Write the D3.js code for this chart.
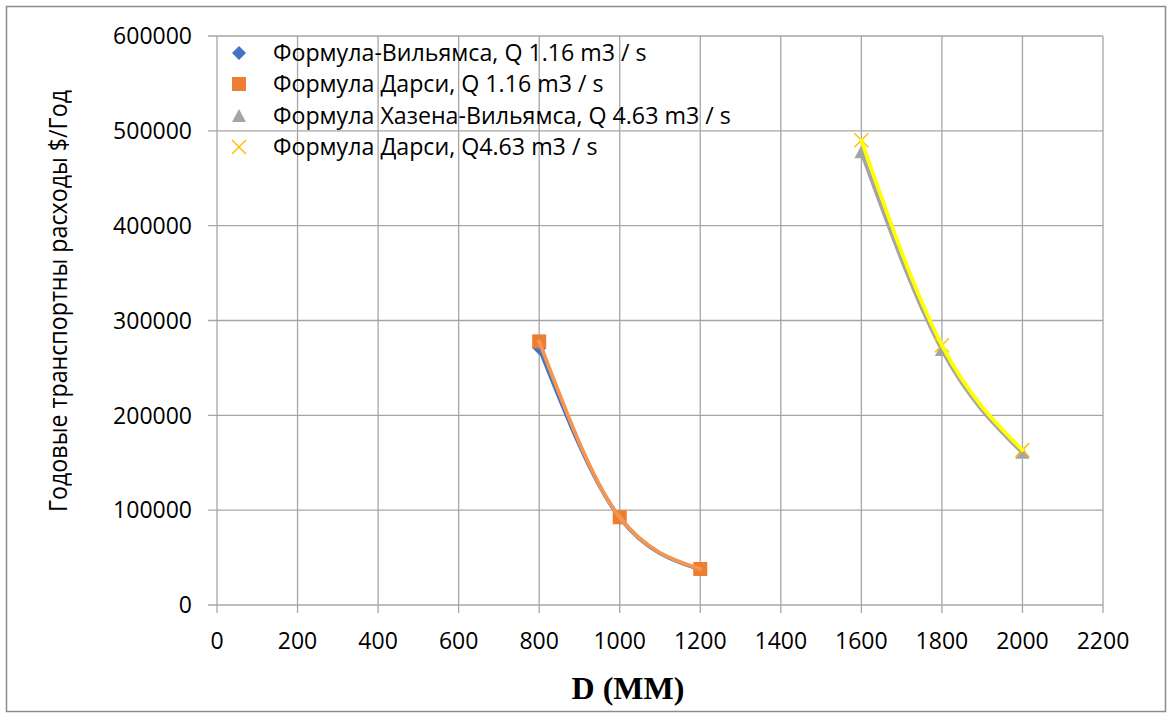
<!DOCTYPE html>
<html><head><meta charset="utf-8">
<script src="https://cdn.jsdelivr.net/npm/d3@7"></script>
<style>body{margin:0;background:#fff}svg{display:block}</style>
</head><body>
<svg id="c" width="1168" height="718"></svg>
<script>
const xTicks = [0,200,400,600,800,1000,1200,1400,1600,1800,2000,2200];
const yTicks = [0,100000,200000,300000,400000,500000,600000];
const seriesNames = ["Формула-Вильямса, Q 1.16 m3 / s","Формула Дарси, Q 1.16 m3 / s","Формула Хазена-Вильямса, Q 4.63 m3 / s","Формула Дарси, Q4.63 m3 / s"];
const d1x = [800,1000,1200], d1y = [271000,92000,37500];
const d2x = [800,1000,1200], d2y = [278000,92500,38000];
const d3x = [1600,1800,2000], d3y = [477500,269000,160500];
const d4x = [1600,1800,2000], d4y = [490000,274000,163500];
const xTitle = "D (MM)";
const yTitle = "Годовые  транспортны  расходы $/Год";

const svg = d3.select("#c");
svg.append("rect").attr("x",6.5).attr("y",6.5).attr("width",1159).attr("height",705)
  .attr("fill","#fff").attr("stroke","#8c8c8c").attr("stroke-width",1.5);

const L=217,R=1103,T=36,B=605;
const x = d3.scaleLinear().domain([0,2200]).range([L,R]);
const y = d3.scaleLinear().domain([0,600000]).range([B,T]);
const gridCol = "#a6a6a6";

const g = svg.append("g");
g.selectAll(".vg").data(xTicks).join("line").attr("x1",d=>x(d)).attr("x2",d=>x(d)).attr("y1",T).attr("y2",B+8).attr("stroke",gridCol).attr("stroke-width",1.3);
g.selectAll(".hg").data(yTicks).join("line").attr("x1",L-9).attr("x2",R).attr("y1",d=>y(d)).attr("y2",d=>y(d)).attr("stroke",gridCol).attr("stroke-width",1.3);

const font = "'Open Sans', sans-serif";
g.selectAll(".yl").data(yTicks).join("text").attr("x",192).attr("y",d=>y(d)).attr("dy","0.36em")
  .attr("text-anchor","end").attr("font-family",font).attr("font-size",23).attr("fill","#000").text(d=>d);
g.selectAll(".xl").data(xTicks).join("text").attr("x",d=>x(d)).attr("y",649)
  .attr("text-anchor","middle").attr("font-family",font).attr("font-size",23).attr("fill","#000").text(d=>d);

svg.append("text").attr("x",628).attr("y",699).attr("text-anchor","middle")
  .attr("font-family","'Liberation Serif','Times New Roman',serif").attr("font-weight","bold").attr("font-size",32).text(xTitle);
svg.append("text").attr("transform","translate(67,301) rotate(-90)").attr("text-anchor","middle")
  .attr("font-family",font).attr("font-size",25).attr("textLength",422).attr("lengthAdjust","spacingAndGlyphs").text(yTitle);

const line = d3.line().x(d=>x(d[0])).y(d=>y(d[1])).curve(d3.curveMonotoneX);
const series = [
  {xs:d1x, ys:d1y, line:"#4472C4", mark:"#4472C4", shape:"diamond"},
  {xs:d2x, ys:d2y, line:"#F5964F", mark:"#ED7D31", shape:"square"},
  {xs:d3x, ys:d3y, line:"#A5A5A5", mark:"#A5A5A5", shape:"triangle"},
  {xs:d4x, ys:d4y, line:"#FFFF00", mark:"#FFC000", shape:"x"}
];
function drawMarker(sel, shape, col, cx, cy){
  if(shape==="diamond") sel.append("path").attr("d",`M${cx},${cy-7}L${cx+7},${cy}L${cx},${cy+7}L${cx-7},${cy}Z`).attr("fill",col);
  else if(shape==="square") sel.append("rect").attr("x",cx-7).attr("y",cy-7).attr("width",14).attr("height",14).attr("fill",col);
  else if(shape==="triangle") sel.append("path").attr("d",`M${cx},${cy-7}L${cx+7},${cy+6}L${cx-7},${cy+6}Z`).attr("fill",col);
  else sel.append("path").attr("d",`M${cx-7},${cy-7}L${cx+7},${cy+7}M${cx+7},${cy-7}L${cx-7},${cy+7}`).attr("stroke",col).attr("stroke-width",1.5).attr("fill","none");
}
series.forEach(s=>{
  const pts = s.xs.map((v,i)=>[v,s.ys[i]]);
  const mg = svg.append("g");
  pts.forEach(p=>drawMarker(mg,s.shape,s.mark,x(p[0]),y(p[1])));
  svg.append("path").datum(pts).attr("d",line).attr("fill","none").attr("stroke",s.line).attr("stroke-width",3.8).attr("stroke-linecap","round");
});

// legend
const lg = svg.append("g");
const rowY = [53,84,116,147];
series.forEach((s,i)=>{
  drawMarker(lg,s.shape,s.mark,239,rowY[i]);
  lg.append("text").attr("x",273).attr("y",rowY[i]).attr("dy","0.36em").attr("font-family",font).attr("font-size",23.2).attr("fill","#000").text(seriesNames[i]);
});
</script>
</body></html>
